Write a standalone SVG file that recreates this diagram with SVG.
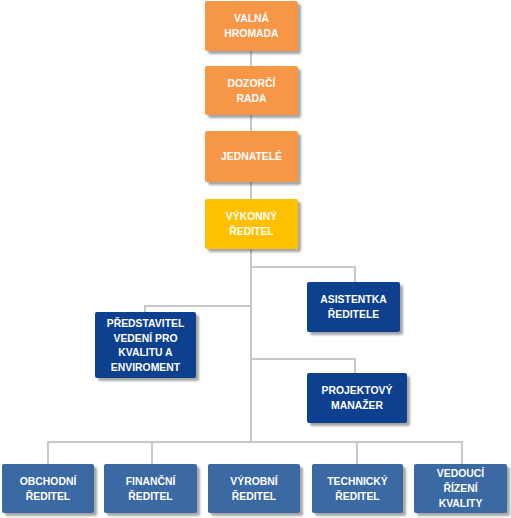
<svg xmlns="http://www.w3.org/2000/svg" width="511" height="518" viewBox="0 0 511 518">
<defs>
<filter id="sh" x="-10%" y="-10%" width="130%" height="130%">
<feGaussianBlur in="SourceAlpha" stdDeviation="0.8" result="b"/>
<feOffset in="b" dx="3" dy="3" result="o"/>
<feComponentTransfer in="o" result="s"><feFuncA type="linear" slope="0.35"/></feComponentTransfer>
<feMerge><feMergeNode in="s"/><feMergeNode in="SourceGraphic"/></feMerge>
</filter>
</defs>
<style>
.box{filter:url(#sh);}
.or{fill:#F79646;}
.gd{fill:#FFC000;}
.db{fill:#0F3F8E;}
.lb{fill:#3A69A3;}
text{font-family:"Liberation Sans",Arial,sans-serif;font-weight:bold;font-size:10.4px;fill:#FFFFFF;text-anchor:middle;}
.conn{stroke:#C8C8C8;stroke-width:2;fill:none;}
</style>
<rect width="511" height="518" fill="#FFFFFF"/>
<g id="connectors">
<path class="conn" d="M251,51 V442"/>
<path class="conn" d="M251,267 H355 V282"/>
<path class="conn" d="M251,306 H145 V312"/>
<path class="conn" d="M251,359 H355 V373"/>
<path class="conn" d="M48,464 V442 H462 V464"/>
<path class="conn" d="M152,442 V464"/>
<path class="conn" d="M357,442 V464"/>
</g>
<g id="valna-hromada"><rect class="box or" x="205" y="1" width="93" height="50" rx="2"/><text x="251.5" y="22">VALNÁ</text><text x="251.5" y="37">HROMADA</text></g>
<g id="dozorci-rada"><rect class="box or" x="205" y="66" width="93" height="49" rx="2"/><text x="251.5" y="87">DOZORČÍ</text><text x="251.5" y="102">RADA</text></g>
<g id="jednatele"><rect class="box or" x="205" y="131" width="93" height="51" rx="2"/><text x="251.5" y="160">JEDNATELÉ</text></g>
<g id="vykonny-reditel"><rect class="box gd" x="205" y="199" width="93" height="50" rx="2"/><text x="251.5" y="220">VÝKONNÝ</text><text x="251.5" y="235">ŘEDITEL</text></g>
<g id="asistentka"><rect class="box db" x="307" y="282" width="93" height="50" rx="2"/><text x="353.5" y="303">ASISTENTKA</text><text x="353.5" y="318">ŘEDITELE</text></g>
<g id="predstavitel"><rect class="box db" x="95" y="312" width="101" height="66" rx="2"/><text x="145.5" y="327">PŘEDSTAVITEL</text><text x="145.5" y="341.5">VEDENÍ PRO</text><text x="145.5" y="356">KVALITU A</text><text x="145.5" y="370.5">ENVIROMENT</text></g>
<g id="projektovy-manazer"><rect class="box db" x="307" y="373" width="100" height="50" rx="2"/><text x="357" y="394">PROJEKTOVÝ</text><text x="357" y="409">MANAŽER</text></g>
<g id="obchodni"><rect class="box lb" x="2" y="464" width="92" height="49" rx="2"/><text x="48" y="485">OBCHODNÍ</text><text x="48" y="500">ŘEDITEL</text></g>
<g id="financni"><rect class="box lb" x="104" y="464" width="93" height="49" rx="2"/><text x="150.5" y="485">FINANČNÍ</text><text x="150.5" y="500">ŘEDITEL</text></g>
<g id="vyrobni"><rect class="box lb" x="208" y="464" width="92" height="49" rx="2"/><text x="254" y="485">VÝROBNÍ</text><text x="254" y="500">ŘEDITEL</text></g>
<g id="technicky"><rect class="box lb" x="312" y="464" width="91" height="49" rx="2"/><text x="357.5" y="485">TECHNICKÝ</text><text x="357.5" y="500">ŘEDITEL</text></g>
<g id="vedouci-kvality"><rect class="box lb" x="414" y="464" width="93" height="49" rx="2"/><text x="460.5" y="476.5">VEDOUCÍ</text><text x="460.5" y="491.5">ŘÍZENÍ</text><text x="460.5" y="506.5">KVALITY</text></g>
</svg>
